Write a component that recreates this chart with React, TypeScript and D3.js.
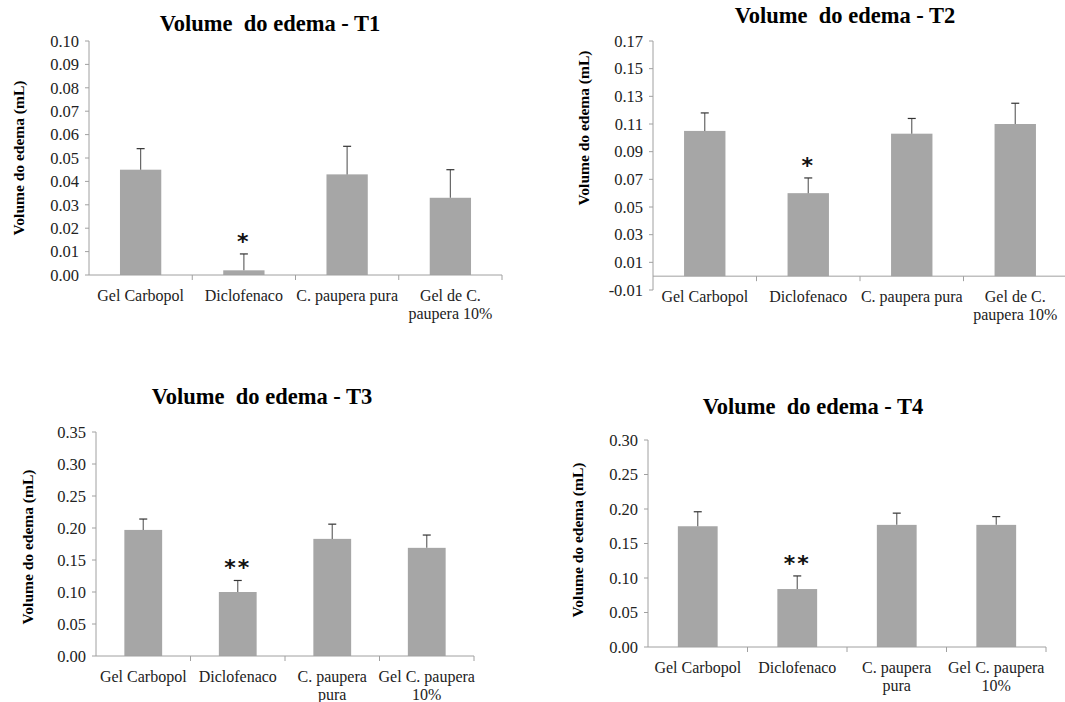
import React from 'react';
import * as d3 from 'd3';

// categories (line-broken as in the original)
const labelsT12 = [['Gel Carbopol'], ['Diclofenaco'], ['C. paupera pura'], ['Gel de C.', 'paupera 10%']];
const labelsT34 = [['Gel Carbopol'], ['Diclofenaco'], ['C. paupera', 'pura'], ['Gel C. paupera', '10%']];

// means and upper error (mL)
const t1Means = [0.045, 0.002, 0.043, 0.033];
const t1Errors = [0.009, 0.007, 0.012, 0.012];
const t2Means = [0.105, 0.06, 0.103, 0.11];
const t2Errors = [0.013, 0.011, 0.011, 0.015];
const t3Means = [0.197, 0.1, 0.183, 0.169];
const t3Errors = [0.017, 0.018, 0.023, 0.02];
const t4Means = [0.175, 0.084, 0.177, 0.177];
const t4Errors = [0.021, 0.019, 0.017, 0.012];

// significance marks
const t1Marks = ['', '*', '', ''];
const t2Marks = ['', '*', '', ''];
const t3Marks = ['', '**', '', ''];
const t4Marks = ['', '**', '', ''];

// y tick values
const t1Ticks = [0, 0.01, 0.02, 0.03, 0.04, 0.05, 0.06, 0.07, 0.08, 0.09, 0.1];
const t2Ticks = [-0.01, 0.01, 0.03, 0.05, 0.07, 0.09, 0.11, 0.13, 0.15, 0.17];
const t3Ticks = [0, 0.05, 0.1, 0.15, 0.2, 0.25, 0.3, 0.35];
const t4Ticks = [0, 0.05, 0.1, 0.15, 0.2, 0.25, 0.3];

const yTitle = 'Volume do edema (mL)';
const serif = '"Liberation Serif", "Times New Roman", Times, serif';
const barColor = '#a6a6a6';
const axisColor = '#a0a0a0';

const fmt = d3.formatLocale({ decimal: '.', thousands: ',', grouping: [3], currency: ['', ''], minus: '-' }).format('.2f');

type PanelProps = {
  title: string;
  labels: string[][];
  means: number[];
  errors: number[];
  marks: string[];
  ticks: number[];
  box: { left: number; right: number; top: number; bottom: number };
  titleAt: [number, number];
  yTitleAt: [number, number];
};

const Panel = ({ title, labels, means, errors, marks, ticks, box, titleAt, yTitleAt }: PanelProps) => {
  const names = labels.map((l) => l.join(' '));
  const x = d3.scaleBand().domain(names).range([box.left, box.right]).paddingInner(0.6).paddingOuter(0.3);
  const y = d3.scaleLinear().domain(d3.extent(ticks) as [number, number]).range([box.bottom, box.top]);
  const zero = y(0);
  const divider = (n: string) => (x(n) as number) - x.step() * x.paddingOuter() + x.step();

  return (
    <g>
      <text
        x={titleAt[0]}
        y={titleAt[1]}
        textAnchor="middle"
        fontFamily={serif}
        fontWeight="bold"
        fontSize={22.5}
        style={{ whiteSpace: 'pre' }}
      >
        {title}
      </text>
      <text
        transform={`translate(${yTitleAt[0]},${yTitleAt[1]}) rotate(-90)`}
        textAnchor="middle"
        dy="0.35em"
        fontFamily={serif}
        fontWeight="bold"
        fontSize={15.5}
      >
        {yTitle}
      </text>

      {/* y axis */}
      <line x1={box.left} x2={box.left} y1={box.top} y2={box.bottom} stroke={axisColor} />
      {ticks.map((t) => (
        <g key={t}>
          <line x1={box.left - 4} x2={box.left} y1={y(t)} y2={y(t)} stroke={axisColor} />
          <text x={box.left - 10} y={y(t)} dy="0.35em" textAnchor="end" fontFamily={serif} fontSize={16.5} fill="#222">
            {fmt(t)}
          </text>
        </g>
      ))}

      {/* bars */}
      {names.map((n, i) => {
        const cx = (x(n) as number) + x.bandwidth() / 2;
        const top = y(means[i] + errors[i]);
        return (
          <g key={n}>
            <rect x={x(n)} y={y(means[i])} width={x.bandwidth()} height={zero - y(means[i])} fill={barColor} />
            <line x1={cx} x2={cx} y1={y(means[i])} y2={top} stroke="#666" strokeWidth={1.2} />
            <line x1={cx - 4} x2={cx + 4} y1={top} y2={top} stroke="#333" strokeWidth={1.2} />
            {marks[i] && (
              <text
                x={cx}
                y={top - 5}
                textAnchor="middle"
                fontFamily='"DejaVu Sans", sans-serif'
                fontWeight="bold"
                fontSize={22}
                letterSpacing={2}
                fill="#111"
              >
                {marks[i]}
              </text>
            )}
          </g>
        );
      })}

      {/* x axis */}
      <line x1={box.left} x2={box.right} y1={zero} y2={zero} stroke={axisColor} />
      {names.map((n) => (
        <line key={'d' + n} x1={divider(n)} x2={divider(n)} y1={zero} y2={zero + 5} stroke={axisColor} />
      ))}
      {names.map((n, i) =>
        labels[i].map((line, j) => (
          <text
            key={n + j}
            x={(x(n) as number) + x.bandwidth() / 2}
            y={zero + 20 + j * 18}
            dy="0.35em"
            textAnchor="middle"
            fontFamily={serif}
            fontSize={16}
            fill="#222"
          >
            {line}
          </text>
        ))
      )}
    </g>
  );
};

export default function App() {
  return (
    <svg width={1065} height={702} style={{ position: 'absolute', left: 0, top: 0, background: '#fff' }}>
      <rect width={1065} height={702} fill="#fff" />
      <Panel
        title="Volume  do edema - T1"
        labels={labelsT12}
        means={t1Means}
        errors={t1Errors}
        marks={t1Marks}
        ticks={t1Ticks}
        box={{ left: 89, right: 502, top: 41, bottom: 275 }}
        titleAt={[270, 31]}
        yTitleAt={[19, 158]}
      />
      <Panel
        title="Volume  do edema - T2"
        labels={labelsT12}
        means={t2Means}
        errors={t2Errors}
        marks={t2Marks}
        ticks={t2Ticks}
        box={{ left: 653, right: 1067, top: 41, bottom: 290 }}
        titleAt={[845, 23]}
        yTitleAt={[584, 128]}
      />
      <Panel
        title="Volume  do edema - T3"
        labels={labelsT34}
        means={t3Means}
        errors={t3Errors}
        marks={t3Marks}
        ticks={t3Ticks}
        box={{ left: 96, right: 474, top: 432, bottom: 656 }}
        titleAt={[262, 404]}
        yTitleAt={[28, 547]}
      />
      <Panel
        title="Volume  do edema - T4"
        labels={labelsT34}
        means={t4Means}
        errors={t4Errors}
        marks={t4Marks}
        ticks={t4Ticks}
        box={{ left: 648, right: 1046, top: 440, bottom: 647 }}
        titleAt={[813, 414]}
        yTitleAt={[578, 540]}
      />
    </svg>
  );
}
